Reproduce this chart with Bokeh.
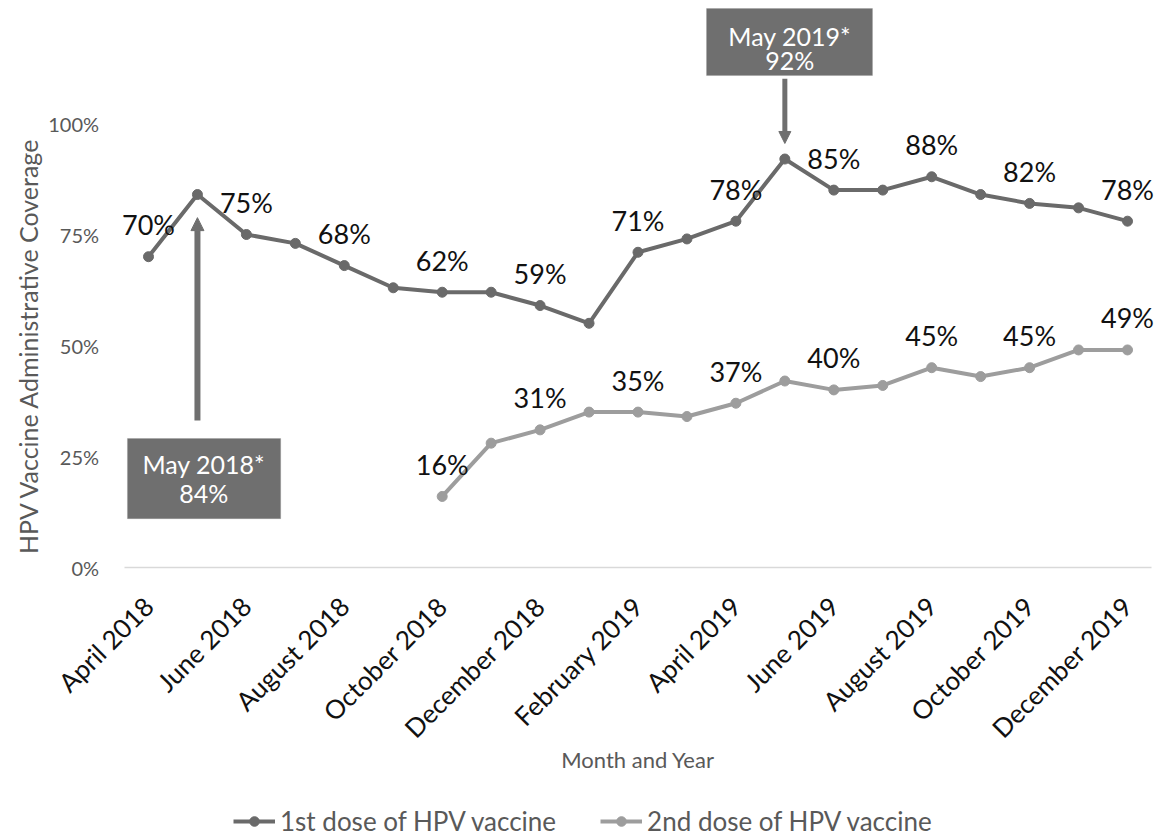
import math
from bokeh.plotting import figure
from bokeh.models import (ColumnDataSource, FixedTicker, PrintfTickFormatter, Range1d,
                          LabelSet, Label, BoxAnnotation, Arrow, NormalHead, Legend, LegendItem)
from bokeh.embed import file_html
from bokeh.resources import INLINE
from bokeh.core.properties import value

# ---------------- data ----------------
months = ["April 2018", "May 2018", "June 2018", "July 2018", "August 2018",
          "September 2018", "October 2018", "November 2018", "December 2018",
          "January 2019", "February 2019", "March 2019", "April 2019", "May 2019",
          "June 2019", "July 2019", "August 2019", "September 2019", "October 2019",
          "November 2019", "December 2019"]
dose1 = [70, 84, 75, 73, 68, 63, 62, 62, 59, 55, 71, 74, 78, 92, 85, 85, 88, 84, 82, 81, 78]
dose2 = [None, None, None, None, None, None,
         16, 28, 31, 35, 35, 34, 37, 42, 40, 41, 45, 43, 45, 49, 49]
tick_idx = list(range(0, 21, 2))
tick_labels = months[::2]
y_ticks = [0, 25, 50, 75, 100]
series_names = ["1st dose of HPV vaccine", "2nd dose of HPV vaccine"]
callouts = [("May 2018*", "84%"), ("May 2019*", "92%")]
x_title = "Month and Year"
y_title = "HPV Vaccine Administrative Coverage"

FONT = "Lato"
C1 = "#6a6a6a"
C2 = "#9d9d9d"
BOXC = "#6f6f6f"

W, H = 1168, 838
# layout scale: pixels per month / per percentage point, and where month 0 / 0% sit
PXM, X0 = 48.95, 148.0
PYP, Y0 = 4.44, 567.0

x = list(range(len(months)))

p = figure(width=W, height=H,
           min_border_left=0, min_border_right=0, min_border_top=0, min_border_bottom=0,
           x_range=Range1d(-X0 / PXM, (W - X0) / PXM),
           y_range=Range1d((Y0 - H) / PYP, Y0 / PYP),
           output_backend="svg", toolbar_location=None)
p.outline_line_color = None
p.grid.visible = False
p.background_fill_color = "white"
p.border_fill_color = "white"

# axes drawn at fixed positions inside the frame
p.xaxis.fixed_location = 0
p.xaxis.bounds = (-0.5, len(months) - 0.5)
p.xaxis.ticker = FixedTicker(ticks=tick_idx)
p.xaxis.major_label_overrides = {i: lab for i, lab in zip(tick_idx, tick_labels)}
p.xaxis.major_label_orientation = math.pi / 4
p.xaxis.major_label_text_font = FONT
p.xaxis.major_label_text_font_size = "26px"
p.xaxis.major_label_text_color = "#111111"
p.xaxis.major_label_standoff = 28
p.xaxis.major_tick_line_color = None
p.xaxis.minor_tick_line_color = None
p.xaxis.axis_line_color = "#d9d9d9"
p.xaxis.axis_line_width = 1.5

p.yaxis.fixed_location = -0.5
p.yaxis.bounds = (0, 100)
p.yaxis.ticker = FixedTicker(ticks=y_ticks)
p.yaxis.formatter = PrintfTickFormatter(format="%d%%")
p.yaxis.major_label_text_font = FONT
p.yaxis.major_label_text_font_size = "20px"
p.yaxis.major_label_text_color = "#595959"
p.yaxis.major_label_standoff = 19
p.yaxis.major_tick_line_color = None
p.yaxis.minor_tick_line_color = None
p.yaxis.axis_line_color = None

# axis titles
p.add_layout(Label(x=(27 - X0) / PXM, y=50, text=y_title, angle=math.pi / 2,
                   text_font=FONT, text_font_size="25px", text_color="#595959",
                   text_align="center", text_baseline="middle"))
p.add_layout(Label(x=10.0, y=(Y0 - 759) / PYP, text=x_title,
                   text_font=FONT, text_font_size="22px", text_color="#595959",
                   text_align="center", text_baseline="middle"))

# series
src1 = ColumnDataSource(dict(x=x, y=dose1))
x2 = [i for i, v in zip(x, dose2) if v is not None]
y2 = [v for v in dose2 if v is not None]
src2 = ColumnDataSource(dict(x=x2, y=y2))

l1 = p.line("x", "y", source=src1, line_color=C1, line_width=4)
s1 = p.scatter("x", "y", source=src1, size=10, fill_color=C1, line_color=C1)
l2 = p.line("x", "y", source=src2, line_color=C2, line_width=4)
s2 = p.scatter("x", "y", source=src2, size=10, fill_color=C2, line_color=C2)

# data labels (every other month)
lab1 = ColumnDataSource(dict(x=[i for i in x if i % 2 == 0],
                             y=[dose1[i] for i in x if i % 2 == 0],
                             t=["%d%%" % dose1[i] for i in x if i % 2 == 0]))
lab2 = ColumnDataSource(dict(x=[i for i in x2 if i % 2 == 0],
                             y=[dose2[i] for i in x2 if i % 2 == 0],
                             t=["%d%%" % dose2[i] for i in x2 if i % 2 == 0]))
for src in (lab1, lab2):
    p.add_layout(LabelSet(x="x", y="y", text="t", source=src, y_offset=32,
                          text_font=value(FONT), text_font_size="27px", text_color="#111111",
                          text_align="center", text_baseline="middle"))

# call-out boxes and arrows
p.add_layout(BoxAnnotation(left=-0.43, right=2.70, bottom=11.0, top=29.05,
                           fill_color=BOXC, fill_alpha=1, line_color="#8f8f8f", line_width=1))
p.add_layout(BoxAnnotation(left=11.40, right=14.79, bottom=110.8, top=125.9,
                           fill_color=BOXC, fill_alpha=1, line_color="#8f8f8f", line_width=1))
p.add_layout(Label(x=1.13, y=23.4, text=callouts[0][0], text_font=FONT, text_font_size="25px",
                   text_color="white", text_align="center", text_baseline="middle"))
p.add_layout(Label(x=1.13, y=16.7, text=callouts[0][1], text_font=FONT, text_font_size="25px",
                   text_color="white", text_align="center", text_baseline="middle"))
p.add_layout(Label(x=13.1, y=119.6, text=callouts[1][0], text_font=FONT, text_font_size="25px",
                   text_color="white", text_align="center", text_baseline="middle"))
p.add_layout(Label(x=13.1, y=114.2, text=callouts[1][1], text_font=FONT, text_font_size="25px",
                   text_color="white", text_align="center", text_baseline="middle"))

p.add_layout(Arrow(x_start=1, y_start=33.1, x_end=1, y_end=78.8, line_color=BOXC, line_width=6,
                   end=NormalHead(size=13, fill_color=BOXC, line_color=BOXC)))
p.add_layout(Arrow(x_start=13, y_start=110.1, x_end=13, y_end=95.5, line_color=BOXC, line_width=5,
                   end=NormalHead(size=12, fill_color=BOXC, line_color=BOXC)))

# legend
legend = Legend(items=[LegendItem(label=series_names[0], renderers=[l1, s1]),
                       LegendItem(label=series_names[1], renderers=[l2, s2])],
                orientation="horizontal", location=(233, 1),
                label_text_font=FONT, label_text_font_size="26px", label_text_color="#595959",
                glyph_width=42, glyph_height=24, label_standoff=5, spacing=44,
                padding=0, margin=0, border_line_color=None, background_fill_alpha=0)
p.add_layout(legend)

open("out.html", "w").write(file_html(p, INLINE))
